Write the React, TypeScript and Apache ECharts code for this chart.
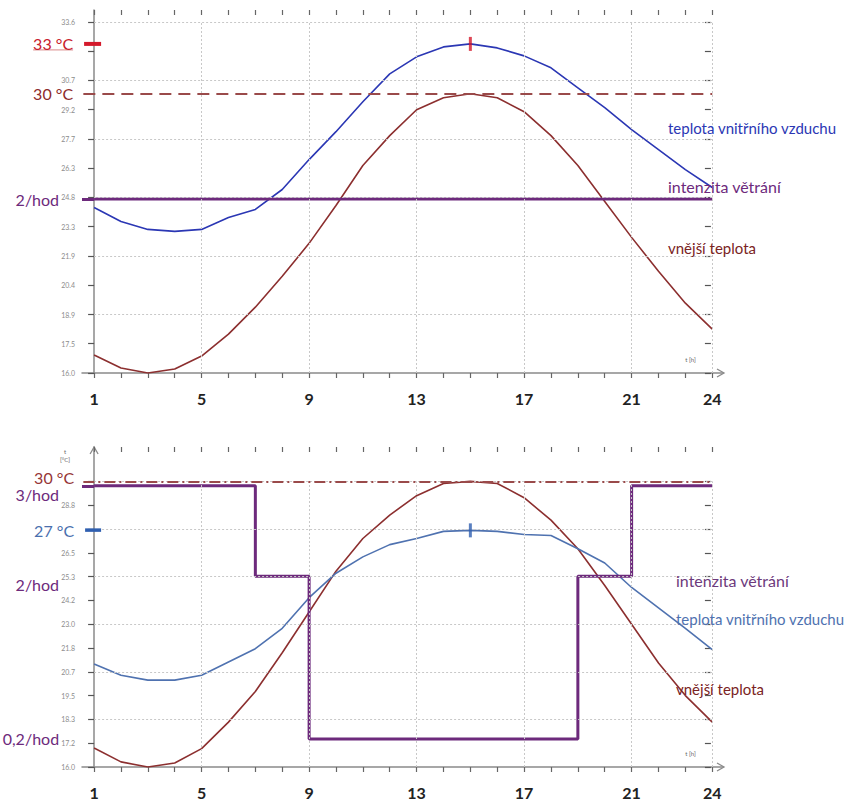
import React, { useEffect, useRef } from "react";
import * as echarts from "echarts";

// ---------- data ----------
const hours = [1, 2, 3, 4, 5, 6, 7, 8, 9, 10, 11, 12, 13, 14, 15, 16, 17, 18, 19, 20, 21, 22, 23, 24];
const labelHours = [1, 5, 9, 13, 17, 21, 24];
const gridHours = [5, 9, 13, 17, 21, 24];

const topTempTicks = [16.0, 17.467, 18.933, 20.4, 21.867, 23.333, 24.8, 26.267, 27.733, 29.2, 30.667, 32.133, 33.6];
const topTempLabels = [16.0, 17.467, 18.933, 20.4, 21.867, 23.333, 24.8, 26.267, 27.733, 29.2, 30.667, 33.6];
const topGridTemps = [18.933, 21.867, 24.8, 27.733, 30.667, 33.6];

const bottomTempTicks = [16.0, 17.167, 18.333, 19.5, 20.667, 21.833, 23.0, 24.167, 25.333, 26.5, 27.667, 28.833, 30.0];
const bottomTempLabels = [16.0, 17.167, 18.333, 19.5, 20.667, 21.833, 23.0, 24.167, 25.333, 26.5, 28.833];
const bottomGridTemps = [18.333, 20.667, 23.0, 25.333, 27.667, 30.0];

// top scenario: constant ventilation 2/h
const outdoorTop = [16.9, 16.25, 16.0, 16.2, 16.85, 17.95, 19.3, 20.85, 22.5, 24.4, 26.4, 27.9, 29.2, 29.8, 30.0, 29.8, 29.1, 27.9, 26.4, 24.6, 22.8, 21.1, 19.5, 18.2];
const indoorTop = [24.3, 23.6, 23.2, 23.1, 23.2, 23.8, 24.2, 25.2, 26.7, 28.1, 29.6, 31.0, 31.85, 32.35, 32.5, 32.3, 31.9, 31.3, 30.3, 29.3, 28.2, 27.2, 26.2, 25.3];
const ventTop = [2, 2, 2, 2, 2, 2, 2, 2, 2, 2, 2, 2, 2, 2, 2, 2, 2, 2, 2, 2, 2, 2, 2, 2];

// bottom scenario: controlled ventilation
const outdoorBottom = [16.93, 16.25, 16.0, 16.2, 16.9, 18.2, 19.7, 21.6, 23.6, 25.6, 27.2, 28.35, 29.3, 29.9, 30.0, 29.9, 29.2, 28.1, 26.7, 24.9, 23.0, 21.1, 19.5, 18.2];
const indoorBottom = [21.05, 20.5, 20.26, 20.26, 20.5, 21.15, 21.8, 22.8, 24.3, 25.5, 26.3, 26.9, 27.2, 27.55, 27.6, 27.55, 27.4, 27.35, 26.7, 26.0, 24.8, 23.8, 22.8, 21.75];
const ventBottom = [3, 3, 3, 3, 3, 3, 2, 2, 0.2, 0.2, 0.2, 0.2, 0.2, 0.2, 0.2, 0.2, 0.2, 0.2, 2, 2, 3, 3, 3, 3];

const limitTemp = 30;
const peakHour = 15;

// ---------- layout / style ----------
const X_MIN = 0.55;
const X_MAX = 24.4;
const GRID_LEFT = 82;
const GRID_W = 641;
const Y_OFFSET = -((1 - X_MIN) / (X_MAX - X_MIN)) * GRID_W;
const FONT = "Lato, 'Open Sans', sans-serif";

const C_OUT = "#8c2f2f";
const C_IN_TOP = "#2b37b4";
const C_IN_BOT = "#4f72b0";
const C_VENT = "#6d2a7c";
const C_DASH = "#9a4a4a";
const C_GRID = "#c8c8c8";
const C_AXIS = "#8a8a8a";

const pairs = (ys: number[]) => hours.map((h, i) => [h, ys[i]]);

function xAxisDef(gridIndex: number, dup: boolean) {
  return {
    type: "value",
    gridIndex,
    min: X_MIN,
    max: X_MAX,
    axisLine: { show: !dup, onZero: false, lineStyle: { color: C_AXIS, width: 1.5 } },
    axisTick: { show: true, inside: dup, length: 5, customValues: hours, lineStyle: { color: "#666", width: 1.2 } },
    axisLabel: dup
      ? { show: false }
      : { show: true, customValues: labelHours, margin: 17, fontSize: 16, fontWeight: "bold", color: "#222", fontFamily: FONT },
    splitLine: { show: false },
  };
}

function yTempDef(gridIndex: number, min: number, max: number, ticks: number[], labels: number[], dup: boolean) {
  return {
    type: "value",
    gridIndex,
    min,
    max,
    offset: Y_OFFSET,
    axisLine: { show: !dup, onZero: false, lineStyle: { color: C_AXIS, width: 1.5 } },
    axisTick: { show: true, inside: dup, length: 6, customValues: ticks, lineStyle: { color: "#555", width: 1.2 } },
    axisLabel: dup
      ? { show: false }
      : { show: true, customValues: labels, margin: 19, fontSize: 7, color: "#8c8c8c", fontFamily: FONT, formatter: (v: number) => Number(v).toFixed(1) },
    splitLine: { show: false },
  };
}

function yVentDef(gridIndex: number, min: number, max: number) {
  return { type: "value", gridIndex, min, max, show: false, axisLine: { onZero: false }, splitLine: { show: false } };
}

function gridLines(yMin: number, yTop: number, temps: number[]) {
  const v = gridHours.map((h) => [{ coord: [h, yMin] }, { coord: [h, yTop] }]);
  const hz = temps.map((t) => [{ coord: [1, t] }, { coord: [24, t] }]);
  return {
    silent: true,
    symbol: ["none", "none"],
    label: { show: false },
    lineStyle: { color: C_GRID, type: [2, 2], width: 1 },
    emphasis: { disabled: true },
    data: [...v, ...hz],
  };
}

function lineSeries(xi: number, yi: number, data: number[], color: string, width: number, extra: any = {}) {
  return {
    type: "line",
    xAxisIndex: xi,
    yAxisIndex: yi,
    data: pairs(data),
    showSymbol: false,
    symbol: "none",
    lineStyle: { color, width },
    itemStyle: { color },
    z: 3,
    ...extra,
  };
}

function buildOption() {
  return {
    animation: false,
    backgroundColor: "#ffffff",
    grid: [
      { left: GRID_LEFT, top: 10, width: GRID_W, height: 363 },
      { left: GRID_LEFT, top: 447, width: GRID_W, height: 320 },
    ],
    xAxis: [xAxisDef(0, false), xAxisDef(0, true), xAxisDef(1, false), xAxisDef(1, true)],
    yAxis: [
      yTempDef(0, 16, 34.2, topTempTicks, topTempLabels, false),
      yTempDef(0, 16, 34.2, topTempTicks, topTempLabels, true),
      yVentDef(0, 0, 4.173),
      yTempDef(1, 16, 31.686, bottomTempTicks, bottomTempLabels, false),
      yTempDef(1, 16, 31.686, bottomTempTicks, bottomTempLabels, true),
      yVentDef(1, -0.11, 3.43),
    ],
    series: [
      // ---- top (0..4)
      { type: "line", xAxisIndex: 0, yAxisIndex: 0, data: [], z: 1, markLine: gridLines(16, 33.6, topGridTemps) },
      lineSeries(0, 0, outdoorTop, C_OUT, 1.6, {
        markLine: {
          silent: true,
          symbol: ["none", "none"],
          label: { show: false },
          lineStyle: { color: C_DASH, type: [12, 7], width: 2 },
          data: [[{ coord: [0.6, limitTemp] }, { coord: [24, limitTemp] }]],
        },
      }),
      lineSeries(0, 0, indoorTop, C_IN_TOP, 1.6),
      lineSeries(0, 2, ventTop, C_VENT, 3, {
        markLine: {
          silent: true,
          symbol: ["none", "none"],
          label: { show: false },
          lineStyle: { color: C_VENT, type: "solid", width: 3 },
          data: [[{ coord: [X_MIN, ventTop[0]] }, { coord: [1, ventTop[0]] }]],
        },
      }),
      {
        type: "scatter",
        xAxisIndex: 0,
        yAxisIndex: 0,
        data: [[peakHour, indoorTop[peakHour - 1]]],
        symbol: "rect",
        symbolSize: [3, 14],
        itemStyle: { color: "#d4192b" },
        z: 5,
      },
      // ---- bottom (5..9)
      { type: "line", xAxisIndex: 2, yAxisIndex: 3, data: [], z: 1, markLine: gridLines(16, 30, bottomGridTemps) },
      lineSeries(2, 3, outdoorBottom, C_OUT, 1.6, {
        markLine: {
          silent: true,
          symbol: ["none", "none"],
          label: { show: false },
          lineStyle: { color: C_DASH, type: [11, 4, 2, 4], width: 2 },
          data: [[{ coord: [0.6, limitTemp] }, { coord: [24, limitTemp] }]],
        },
      }),
      lineSeries(2, 3, indoorBottom, C_IN_BOT, 1.6),
      lineSeries(2, 5, ventBottom, C_VENT, 3, {
        step: "end",
        markLine: {
          silent: true,
          symbol: ["none", "none"],
          label: { show: false },
          lineStyle: { color: C_VENT, type: "solid", width: 3 },
          data: [[{ coord: [X_MIN, ventBottom[0]] }, { coord: [1, ventBottom[0]] }]],
        },
      }),
      {
        type: "scatter",
        xAxisIndex: 2,
        yAxisIndex: 3,
        data: [[peakHour, indoorBottom[peakHour - 1]]],
        symbol: "rect",
        symbolSize: [3, 14],
        itemStyle: { color: "#2f5fb0" },
        z: 5,
      },
    ],
  };
}

function txt(x: number, y: number, text: string, fill: string, fontSize: number, align = "right", extra: any = {}) {
  return {
    type: "text",
    x,
    y,
    silent: true,
    z: 10,
    style: { text, fill, fontSize, fontFamily: FONT, align, verticalAlign: "middle", ...extra },
  };
}

export default function App() {
  const ref = useRef<HTMLDivElement>(null);
  useEffect(() => {
    if (!ref.current) return;
    const chart = echarts.init(ref.current, undefined, { renderer: "svg" });
    chart.setOption(buildOption() as any);

    const P = (seriesIndex: number, x: number, y: number) =>
      chart.convertToPixel({ seriesIndex } as any, [x, y]) as unknown as number[];

    const g: any[] = [];
    // ---------- top chart ----------
    {
      const [ax, y0] = P(1, 1, 16);
      const [x24] = P(1, 24, 16);
      const xEnd = GRID_LEFT + GRID_W;
      const yPeak = P(2, peakHour, indoorTop[peakHour - 1])[1];
      const y30 = P(1, 1, limitTemp)[1];
      const yV = P(3, 1, ventTop[0])[1];
      g.push({ type: "rect", shape: { x: ax - 10, y: yPeak - 2, width: 17, height: 4 }, style: { fill: "#d4192b" }, z: 9, silent: true });
      g.push(txt(ax - 21, yPeak, "33 °C", "#c8202c", 16));
      g.push({ type: "line", shape: { x1: ax - 61, y1: yPeak + 6, x2: ax - 21, y2: yPeak + 6 }, style: { stroke: "#d98a8a", lineWidth: 1 }, silent: true });
      g.push(txt(ax - 21, y30, "30 °C", "#8e2b2b", 16));
      g.push(txt(ax - 35, yV, "2/hod", C_VENT, 16));
      g.push({ type: "polyline", shape: { points: [[xEnd - 6, y0 - 4], [xEnd + 1, y0], [xEnd - 6, y0 + 4]] }, style: { stroke: C_AXIS, lineWidth: 1.3, fill: "none" }, silent: true });
      g.push(txt(x24 - 27, y0 - 14, "t [h]", "#666", 6, "left"));
      g.push(txt(668, 128, "teplota vnitřního vzduchu", "#2b37b4", 15, "left"));
      g.push(txt(668, 186, "intenzita větrání", "#6d2a7c", 16, "left"));
      g.push(txt(668, 248, "vnější teplota", "#7a2323", 15, "left"));
    }
    // ---------- bottom chart ----------
    {
      const [ax, y0] = P(6, 1, 16);
      const [x24] = P(6, 24, 16);
      const xEnd = GRID_LEFT + GRID_W;
      const yTop = 447;
      const yPeak = P(7, peakHour, indoorBottom[peakHour - 1])[1];
      const y30 = P(6, 1, limitTemp)[1];
      const yV3 = P(8, 1, 3)[1];
      const yV2 = P(8, 1, 2)[1];
      const yV02 = P(8, 1, 0.2)[1];
      g.push({ type: "rect", shape: { x: ax - 9, y: yPeak - 2, width: 16, height: 3.5 }, style: { fill: "#2f5fb0" }, z: 9, silent: true });
      g.push(txt(ax - 20, y30 - 4, "30 °C", "#963636", 16));
      g.push(txt(ax - 35, yV3 + 9, "3/hod", C_VENT, 16));
      g.push(txt(ax - 20, yPeak, "27 °C", "#4a6fae", 16));
      g.push(txt(ax - 35, yV2 + 8, "2/hod", C_VENT, 16));
      g.push(txt(ax - 35, yV02, "0,2/hod", C_VENT, 16));
      g.push({ type: "polyline", shape: { points: [[ax - 4, yTop + 7], [ax, yTop], [ax + 4, yTop + 7]] }, style: { stroke: C_AXIS, lineWidth: 1.3, fill: "none" }, silent: true });
      g.push({ type: "polyline", shape: { points: [[xEnd - 6, y0 - 4], [xEnd + 1, y0], [xEnd - 6, y0 + 4]] }, style: { stroke: C_AXIS, lineWidth: 1.3, fill: "none" }, silent: true });
      g.push(txt(x24 - 27, y0 - 14, "t [h]", "#666", 6, "left"));
      g.push(txt(ax - 29, yTop + 4, "t", "#666", 6, "center"));
      g.push(txt(ax - 29, yTop + 12, "[°C]", "#666", 6, "center"));
      g.push(txt(676, 580, "intenzita větrání", "#6d3a7c", 16, "left"));
      g.push(txt(676, 619, "teplota vnitřního vzduchu", "#4f72b0", 15, "left"));
      g.push(txt(676, 689, "vnější teplota", "#7a2323", 15, "left"));
    }
    chart.setOption({ graphic: g } as any);

    return () => chart.dispose();
  }, []);

  return (
    <div
      ref={ref}
      style={{ position: "absolute", left: 0, top: 0, width: 846, height: 802, background: "#fff" }}
    />
  );
}
